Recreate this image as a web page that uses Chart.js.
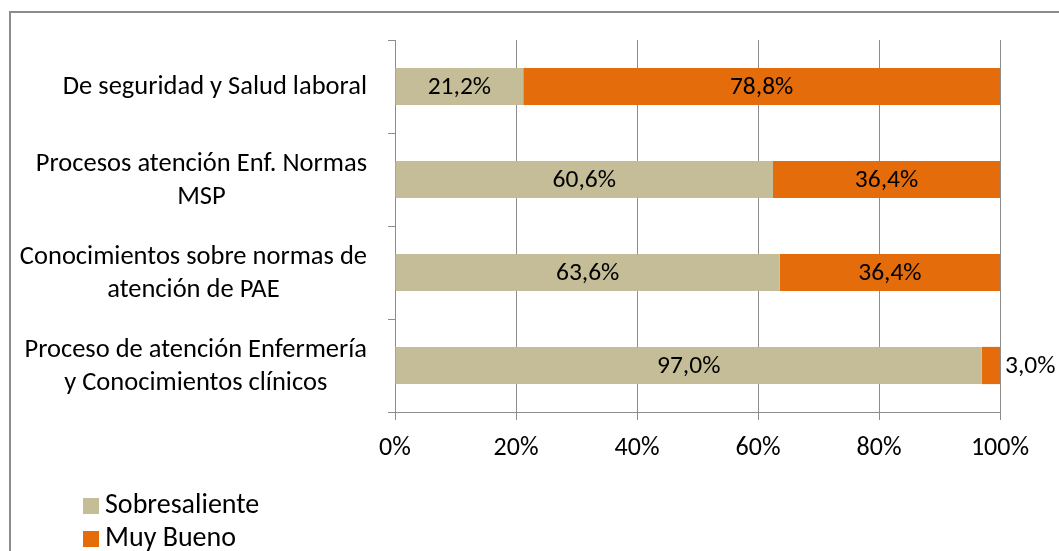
<!DOCTYPE html>
<html>
<head>
<meta charset="utf-8">
<script src="https://cdn.jsdelivr.net/npm/chart.js@4/dist/chart.umd.min.js"></script>
<style>
  html, body { margin: 0; padding: 0; background: #fff; }
  #wrap { width: 1059px; height: 551px; position: relative; }
</style>
</head>
<body>
<div id="wrap"><canvas id="chart"></canvas></div>
<script>
// data (percent, as labelled)
const categories = [
    ["De seguridad y Salud laboral"],
    ["Procesos atención Enf. Normas", "MSP"],
    ["Conocimientos sobre normas de", "atención de PAE"],
    ["Proceso de atención Enfermería", "y Conocimientos clínicos"],
];
const seriesNames = ["Sobresaliente", "Muy Bueno"];
const sobresaliente = [21.2, 60.6, 63.6, 97.0];
const muyBueno = [78.8, 36.4, 36.4, 3.0];
const xTicks = [0, 20, 40, 60, 80, 100];
const colors = ["#C4BD97", "#E46C0A"];

const FONT = "Carlito, Calibri, Lato, sans-serif";

// 100% stacked: each bar is scaled to its row total
const totals = sobresaliente.map((v, i) => v + muyBueno[i]);
const share = (arr) => arr.map((v, i) => v / totals[i] * 100);
const raw = [sobresaliente, muyBueno];

const fmt = (v) => v.toFixed(1).replace(".", ",") + "%";

const frame = {
    id: "frame",
    beforeDraw(chart) {
        const ctx = chart.ctx;
        ctx.save();
        ctx.strokeStyle = "#8c8c8c";
        ctx.lineWidth = 2;
        ctx.strokeRect(10, 12, 1100, 600);
        ctx.restore();
    },
};

// category labels: block right aligned, lines centered inside the block
const yLabels = {
    id: "yLabels",
    afterDraw(chart) {
        const ctx = chart.ctx;
        const y = chart.scales.y;
        const lh = 33;
        ctx.save();
        ctx.font = "26.5px " + FONT;
        ctx.fillStyle = "#000";
        ctx.textAlign = "center";
        ctx.textBaseline = "middle";
        categories.forEach((lines, i) => {
            const w = Math.max(...lines.map((l) => ctx.measureText(l).width));
            const cx = 367 - w / 2;
            const cy = y.getPixelForValue(i) + 1;
            lines.forEach((l, k) => {
                ctx.fillText(l, cx, cy + (k - (lines.length - 1) / 2) * lh);
            });
        });
        ctx.restore();
    },
};

const dataLabels = {
    id: "dataLabels",
    afterDatasetsDraw(chart) {
        const ctx = chart.ctx;
        ctx.save();
        ctx.font = "25.5px " + FONT;
        ctx.fillStyle = "#000";
        ctx.textBaseline = "middle";
        chart.data.datasets.forEach((ds, d) => {
            chart.getDatasetMeta(d).data.forEach((bar, i) => {
                const txt = fmt(raw[d][i]);
                const left = Math.min(bar.x, bar.base);
                const w = Math.abs(bar.x - bar.base);
                if (w < ctx.measureText(txt).width + 6) {
                    ctx.textAlign = "left";
                    ctx.fillText(txt, bar.x + 5, bar.y + 1);
                } else {
                    ctx.textAlign = "center";
                    ctx.fillText(txt, left + w / 2, bar.y + 1);
                }
            });
        });
        ctx.restore();
    },
};

const legendBox = {
    id: "legendBox",
    afterDraw(chart) {
        const ctx = chart.ctx;
        ctx.save();
        ctx.font = "28px " + FONT;
        ctx.textBaseline = "middle";
        ctx.textAlign = "left";
        chart.data.datasets.forEach((ds, d) => {
            const cy = 506 + d * 33;
            ctx.fillStyle = ds.backgroundColor;
            ctx.fillRect(83, cy - 8, 16, 16);
            ctx.fillStyle = "#000";
            ctx.fillText(ds.label, 105, cy);
        });
        ctx.restore();
    },
};

new Chart(document.getElementById("chart"), {
    type: "bar",
    data: {
        labels: categories,
        datasets: seriesNames.map((name, d) => ({
            label: name,
            data: share(raw[d]),
            backgroundColor: colors[d],
            barPercentage: 0.4,
            categoryPercentage: 1,
        })),
    },
    options: {
        indexAxis: "y",
        responsive: true,
        maintainAspectRatio: false,
        animation: false,
        layout: { padding: { top: 40, right: 59, left: 10, bottom: 0 } },
        plugins: {
            legend: { display: false },
            tooltip: { enabled: false },
        },
        scales: {
            x: {
                stacked: true,
                min: 0,
                max: 100,
                afterFit: (s) => { s.height = 139; },
                afterBuildTicks: (s) => { s.ticks = xTicks.map((v) => ({ value: v })); },
                ticks: {
                    callback: (v) => v + "%",
                    font: { family: FONT, size: 26 },
                    color: "#000",
                    padding: 13,
                    maxRotation: 0,
                },
                grid: { color: "#8c8c8c", lineWidth: 1, tickLength: 8 },
                border: { color: "#8c8c8c" },
            },
            y: {
                stacked: true,
                afterFit: (s) => { s.width = 385; },
                ticks: { display: false },
                grid: { offset: true, drawOnChartArea: false, color: "#8c8c8c", tickLength: 7 },
                border: { color: "#8c8c8c" },
            },
        },
    },
    plugins: [frame, yLabels, dataLabels, legendBox],
});
</script>
</body>
</html>
